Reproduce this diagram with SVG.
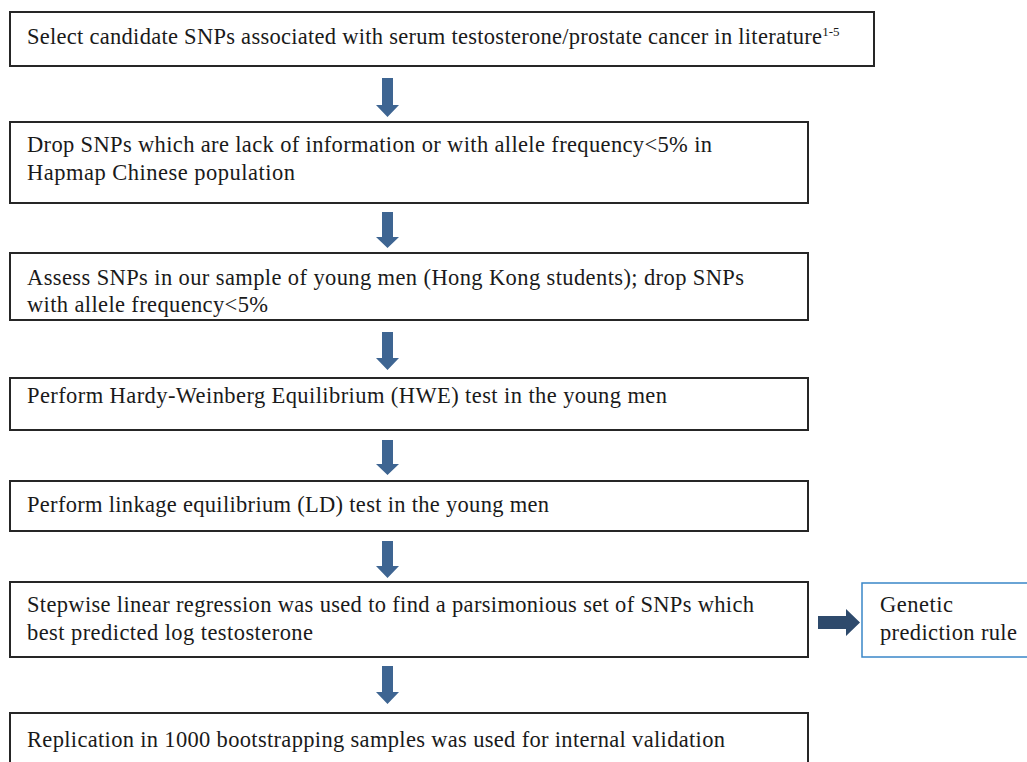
<svg xmlns="http://www.w3.org/2000/svg" width="1027" height="762" viewBox="0 0 1027 762">
<defs>
<style>
.box{fill:#fff;stroke:#262626;stroke-width:2}
.blue{fill:#fff;stroke:#3a86c8;stroke-width:1.5}
.t{font-family:"Liberation Serif","Times New Roman",serif;font-size:22.5px;fill:#1a1a1a}
.arr{fill:#3e6592}
.arr2{fill:#2e4a6c}
</style>
</defs>
<rect width="1027" height="762" fill="#fff"/>
<g id="connectors">
<path class="arr" d="M382,78 H393 V105 H399 L387.5,117 L376,105 H382 Z"/>
<path class="arr" d="M382,212 H393 V237 H399 L387.5,248 L376,237 H382 Z"/>
<path class="arr" d="M382,332 H393 V358 H399 L387.5,370 L376,358 H382 Z"/>
<path class="arr" d="M382,440 H393 V464 H399 L387.5,475 L376,464 H382 Z"/>
<path class="arr" d="M382,541 H393 V566 H399 L387.5,578 L376,566 H382 Z"/>
<path class="arr" d="M382,666 H393 V692 H399 L387.5,704 L376,692 H382 Z"/>
<path class="arr2" d="M818,616 H846 V609 L860,622.5 L846,636 V629 H818 Z"/>
</g>
<g id="n1"><rect class="box" x="10" y="12" width="864" height="54"/>
<text class="t" x="27" y="44"><tspan textLength="795" lengthAdjust="spacing">Select candidate SNPs associated with serum testosterone/prostate cancer in literature</tspan><tspan font-size="13" dy="-8">1-5</tspan></text></g>
<g id="n2"><rect class="box" x="10" y="122" width="798" height="81"/>
<text class="t" x="27" y="152" textLength="685" lengthAdjust="spacing">Drop SNPs which are lack of information or with allele  frequency&lt;5% in</text>
<text class="t" x="27" y="180" textLength="268" lengthAdjust="spacing">Hapmap Chinese population</text></g>
<g id="n3"><rect class="box" x="10" y="253" width="798" height="67"/>
<text class="t" x="27" y="285" textLength="717" lengthAdjust="spacing">Assess SNPs in our sample of young men (Hong Kong students); drop SNPs</text>
<text class="t" x="27" y="312" textLength="241" lengthAdjust="spacing">with allele  frequency&lt;5%</text></g>
<g id="n4"><rect class="box" x="10" y="378" width="798" height="52"/>
<text class="t" x="27" y="403" textLength="640" lengthAdjust="spacing">Perform Hardy-Weinberg  Equilibrium  (HWE) test in the young men</text></g>
<g id="n5"><rect class="box" x="10" y="481" width="798" height="50"/>
<text class="t" x="27" y="512" textLength="522" lengthAdjust="spacing">Perform linkage  equilibrium  (LD) test in the young men</text></g>
<g id="n6"><rect class="box" x="10" y="582" width="798" height="75"/>
<text class="t" x="27" y="612" textLength="727" lengthAdjust="spacing">Stepwise linear  regression  was used to find a parsimonious set of SNPs which</text>
<text class="t" x="27" y="640" textLength="286" lengthAdjust="spacing">best predicted log  testosterone</text></g>
<g id="n7"><rect class="blue" x="862" y="583" width="170" height="74"/>
<text class="t" x="880" y="612" textLength="73" lengthAdjust="spacing">Genetic</text>
<text class="t" x="880" y="640" textLength="137" lengthAdjust="spacing">prediction rule</text></g>
<g id="n8"><rect class="box" x="10" y="713" width="798" height="60"/>
<text class="t" x="27" y="747" textLength="698" lengthAdjust="spacing">Replication in 1000 bootstrapping samples was used for internal validation</text></g>
</svg>
